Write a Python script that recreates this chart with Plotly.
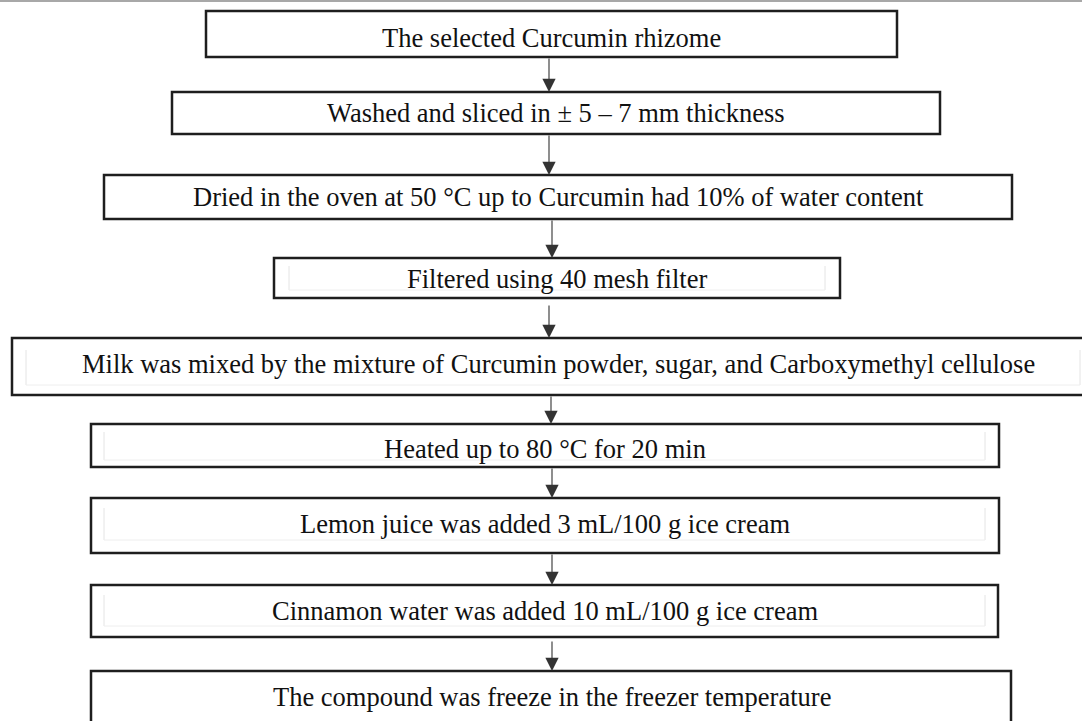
import plotly.graph_objects as go

# Flowchart content
steps = [
    "The selected Curcumin rhizome",
    "Washed and sliced in ± 5 – 7 mm thickness",
    "Dried in the oven at 50 °C up to Curcumin had 10% of water content",
    "Filtered using 40 mesh filter",
    "Milk was mixed by the mixture of Curcumin powder, sugar, and Carboxymethyl cellulose",
    "Heated up to 80 °C for 20 min",
    "Lemon juice was added 3 mL/100 g ice cream",
    "Cinnamon water was added 10 mL/100 g ice cream",
    "The compound was freeze in the freezer temperature",
]

# Box geometry (layout, pixel-like coordinates; y downward)
box_x0 = [206, 172, 104, 274, 12, 91, 91, 91, 91]
box_x1 = [897, 940, 1012, 840, 1095, 999, 999, 998, 1011]
box_y0 = [11, 92, 175, 258, 338, 424, 498, 585, 671]
box_y1 = [57, 134, 219, 298, 395, 467, 553, 637, 735]
text_x = [551, 556, 558, 557, 558, 545, 545, 545, 552]
text_y = [38, 113, 197, 279, 364, 449, 524, 611, 697]
# inner faint frame artefacts (x0, x1, y0, y1) or None
inner = [None, None, None, (289, 825, 266, 290), (26, 1080, 350, 385),
         (104, 985, 432, 460), (104, 985, 508, 540), (104, 985, 595, 626), None]
# arrows (start y, end y)
arrow_y0 = [57, 134, 219, 304, 395, 467, 553, 640]
arrow_y1 = [92, 175, 258, 338, 424, 498, 585, 671]
arrow_x = [549, 549, 552, 549, 551, 552, 552, 552]

W, H = 1082, 721
fig = go.Figure()
fig.add_trace(go.Scatter(x=[0, W], y=[0, H], mode="markers",
                         marker=dict(opacity=0), hoverinfo="skip", showlegend=False))

shapes = []
# top gray rule
shapes.append(dict(type="line", x0=0, x1=W, y0=1, y1=1, xref="x", yref="y",
                   line=dict(color="#a8a8a8", width=2)))
for i in range(len(steps)):
    shapes.append(dict(type="rect", x0=box_x0[i], x1=box_x1[i], y0=box_y0[i], y1=box_y1[i],
                       xref="x", yref="y", line=dict(color="#1e1e1e", width=2.5),
                       fillcolor="rgba(0,0,0,0)", layer="above"))
    if inner[i] is not None:
        a, b, c, d = inner[i]
        shapes.append(dict(type="line", x0=a, x1=a, y0=c, y1=d, xref="x", yref="y",
                           line=dict(color="#e4e4e4", width=1)))
        shapes.append(dict(type="line", x0=b, x1=b, y0=c, y1=d, xref="x", yref="y",
                           line=dict(color="#e4e4e4", width=1)))
        shapes.append(dict(type="line", x0=a, x1=b, y0=d, y1=d, xref="x", yref="y",
                           line=dict(color="#eeeeee", width=1)))

annotations = []
for i, s in enumerate(steps):
    annotations.append(dict(x=text_x[i], y=text_y[i], xref="x", yref="y", text=s,
                            showarrow=False,
                            font=dict(family="Liberation Serif, Times New Roman, serif",
                                      size=26.5, color="#111111"),
                            xanchor="center", yanchor="middle"))
for i in range(len(arrow_x)):
    annotations.append(dict(x=arrow_x[i], y=arrow_y1[i], ax=arrow_x[i], ay=arrow_y0[i],
                            xref="x", yref="y", axref="x", ayref="y", text="",
                            showarrow=True, arrowhead=2, arrowsize=2.4, arrowwidth=1.1,
                            arrowcolor="#333333", standoff=0))

fig.update_layout(
    width=W, height=H, margin=dict(l=0, r=0, t=0, b=0),
    paper_bgcolor="white", plot_bgcolor="white",
    xaxis=dict(range=[0, W], visible=False, fixedrange=True),
    yaxis=dict(range=[H, 0], visible=False, fixedrange=True),
    shapes=shapes, annotations=annotations, showlegend=False,
)
fig.write_html("out.html", config={"displayModeBar": False},
               post_script="document.body.style.margin='0px';document.body.style.overflow='hidden';")
